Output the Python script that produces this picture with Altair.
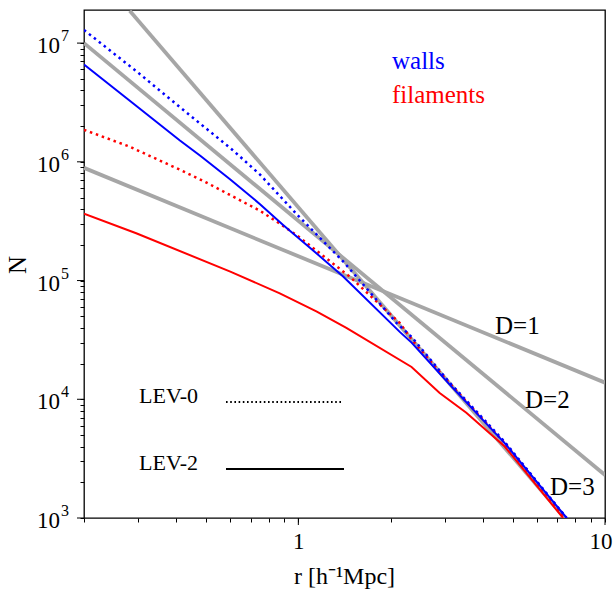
import altair as alt
import pandas as pd

# ---------------- data ----------------
walls_lev0_r = [0.2, 0.3, 0.41, 0.61, 0.75, 1.0, 1.4, 2.09, 2.34, 3.1, 4.7, 7.5]
walls_lev0_n = [1.29e7, 5.65e6, 2.9e6, 1.26e6, 7.8e5, 3.5e5, 1.45e5, 4.4e4, 3.35e4, 1.4e4, 4.4e3, 1.0e3]

walls_lev2_r = [0.2, 0.3, 0.41, 0.48, 0.6, 0.75, 0.89, 1.15, 1.4, 2.15, 2.34, 3.1, 4.7, 7.5]
walls_lev2_n = [6.6e6, 2.88e6, 1.52e6, 1.12e6, 7.1e5, 4.4e5, 2.95e5, 1.68e5, 1.08e5, 3.66e4, 3.0e4, 1.35e4, 4.3e3, 1.0e3]

fil_lev0_r = [0.2, 0.28, 0.41, 0.49, 0.75, 0.89, 1.0, 1.47, 2.14, 2.34, 3.1, 4.7, 7.4]
fil_lev0_n = [1.86e6, 1.35e6, 8.6e5, 6.9e5, 3.87e5, 2.9e5, 2.35e5, 1.08e5, 4.4e4, 3.2e4, 1.38e4, 4.3e3, 1.0e3]

fil_lev2_r = [0.2, 0.296, 0.6, 0.87, 1.145, 1.434, 2.34, 2.89, 3.53, 4.71, 7.3]
fil_lev2_n = [3.66e5, 2.5e5, 1.19e5, 7.8e4, 5.5e4, 4.0e4, 1.87e4, 1.13e4, 7.7e3, 4.0e3, 1.0e3]

# reference power laws D=1, D=2, D=3 (end points)
d1_r = [0.2, 10.0]
d1_n = [8.9e5, 1.38e4]
d2_r = [0.2, 10.0]
d2_n = [1.0e7, 2.3e3]
d3_r = [0.282, 7.4]
d3_n = [1.87e7, 1.0e3]

x_tick_values = [0.2, 0.3, 0.4, 0.5, 0.6, 0.7, 0.8, 0.9, 1, 2, 3, 4, 5, 6, 7, 8, 9, 10]
x_major_values = [1, 10]
y_tick_values = [1e3, 2e3, 3e3, 4e3, 5e3, 6e3, 7e3, 8e3, 9e3,
                 1e4, 2e4, 3e4, 4e4, 5e4, 6e4, 7e4, 8e4, 9e4,
                 1e5, 2e5, 3e5, 4e5, 5e5, 6e5, 7e5, 8e5, 9e5,
                 1e6, 2e6, 3e6, 4e6, 5e6, 6e6, 7e6, 8e6, 9e6, 1e7]
y_label_values = [1e3, 1e4, 1e5, 1e6, 1e7]
y_label_exps = ["3", "4", "5", "6", "7"]

# ---------------- tables ----------------
def frame(r, n, name):
    return pd.DataFrame({"r": r, "n": n, "s": name})

gray_df = pd.concat([frame(d1_r, d1_n, "D1"), frame(d2_r, d2_n, "D2"), frame(d3_r, d3_n, "D3")])
wl0 = frame(walls_lev0_r, walls_lev0_n, "walls LEV-0")
wl2 = frame(walls_lev2_r, walls_lev2_n, "walls LEV-2")
fl0 = frame(fil_lev0_r, fil_lev0_n, "filaments LEV-0")
fl2 = frame(fil_lev2_r, fil_lev2_n, "filaments LEV-2")
ylab_df = pd.DataFrame({"n": y_label_values, "e": y_label_exps})
xmaj_df = pd.DataFrame({"r": x_major_values})
one = pd.DataFrame({"k": [0]})

FONT = "Liberation Serif"
W, H = 521, 508

xs = alt.Scale(type="log", domain=[0.2, 10], nice=False)
ys = alt.Scale(type="log", domain=[1000, 1.9e7], nice=False)

x_axis = alt.Axis(
    values=x_tick_values,
    labelExpr="datum.value == 1 ? '1' : (datum.value == 10 ? '10' : '')",
    labelOverlap=False, labelFlush=True, labelFlushOffset=7,
    tickSize=4, tickColor="black", tickWidth=1, domain=False, grid=False,
    labelFont=FONT, labelFontSize=23, labelColor="black", labelPadding=8,
    title=None,
)
y_axis = alt.Axis(
    values=y_tick_values, labels=False,
    tickSize=4, tickColor="black", tickWidth=1, domain=False, grid=False, title=None,
)

X = alt.X("r:Q", scale=xs, axis=x_axis)
Y = alt.Y("n:Q", scale=ys, axis=y_axis)

gray = alt.Chart(gray_df).mark_line(color="#a6a6a6", strokeWidth=3.8, clip=True).encode(
    x=X, y=Y, detail="s:N")

def curve(df, color, dash):
    kw = dict(color=color, clip=True)
    if dash:
        kw["strokeDash"] = [2.5, 3.8]
        kw["strokeWidth"] = 2.5
    else:
        kw["strokeWidth"] = 2
    return alt.Chart(df).mark_line(**kw).encode(x=X, y=Y, order="r:Q")

red0 = curve(fl0, "#ff0000", True)
red2 = curve(fl2, "#ff0000", False)
blue0 = curve(wl0, "#0000ff", True)
blue2 = curve(wl2, "#0000ff", False)

# longer major ticks (decades)
ymaj = alt.Chart(ylab_df).mark_rule(color="black", strokeWidth=1).encode(
    y=Y, x=alt.value(-7), x2=alt.value(0))
xmaj = alt.Chart(xmaj_df).mark_rule(color="black", strokeWidth=1).encode(
    x=X, y=alt.value(H), y2=alt.value(H + 7))

# y tick labels 10^k
ylab10 = alt.Chart(ylab_df).mark_text(font=FONT, fontSize=23, align="right", baseline="middle", dy=3,
                                      color="black").encode(
    x=alt.value(-24), y=Y, text=alt.value("10"))
ylabexp = alt.Chart(ylab_df).mark_text(font=FONT, fontSize=16, align="left", baseline="middle", dy=-7,
                                       color="black").encode(
    x=alt.value(-23), y=Y, text="e:N")

def label(txt, x, y, color="black", size=25, **kw):
    return alt.Chart(one).mark_text(font=FONT, fontSize=size, color=color, align="left",
                                    baseline="alphabetic", **kw).encode(
        x=alt.value(x), y=alt.value(y), text=alt.value(txt))

texts = [
    label("walls", 308, 59, "#0000ff"),
    label("filaments", 308, 93, "#ff0000"),
    label("D=1", 411, 324),
    label("D=2", 441, 398),
    label("D=3", 466, 485),
    label("LEV-0", 55, 393, size=22),
    label("LEV-2", 55, 460, size=22),
]

ntitle = alt.Chart(one).mark_text(font=FONT, fontSize=25, color="black", angle=270,
                                  align="center", baseline="middle").encode(
    x=alt.value(-66), y=alt.value(255), text=alt.value("N"))
xtitle = alt.Chart(one).mark_text(font=FONT, fontSize=24, color="black", align="center",
                                  baseline="alphabetic").encode(
    x=alt.value(W / 2), y=alt.value(574), text=alt.value("r [h\u207b\u00b9Mpc]"))

lev0_line = alt.Chart(one).mark_rule(color="black", strokeWidth=2, strokeDash=[1.6, 2.6]).encode(
    x=alt.value(142), x2=alt.value(257), y=alt.value(392))
lev2_line = alt.Chart(one).mark_rule(color="black", strokeWidth=2).encode(
    x=alt.value(142), x2=alt.value(260), y=alt.value(459))

chart = alt.layer(
    gray, red0, red2, blue0, blue2, ymaj, xmaj, ylab10, ylabexp, ntitle, xtitle,
    lev0_line, lev2_line, *texts
).properties(
    width=W, height=H,
    autosize=alt.AutoSizeParams(type="none"),
    padding={"left": 84, "top": 10, "right": 9, "bottom": 72},
    background="white",
).configure_view(
    stroke="black", strokeWidth=1.3
)

chart.save("out.html", embed_options={"renderer": "svg", "actions": False})
